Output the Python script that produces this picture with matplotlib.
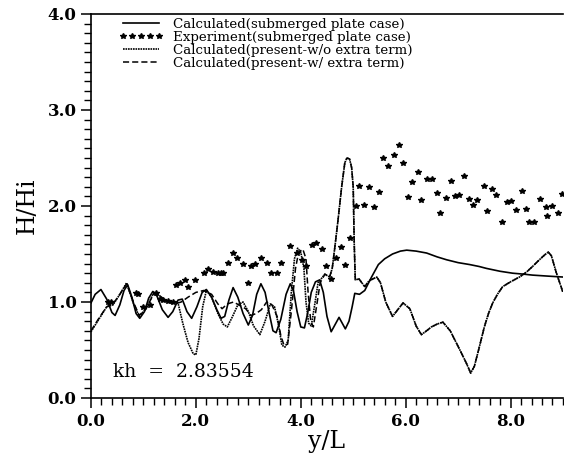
import numpy as np
import matplotlib.pyplot as plt
from matplotlib.ticker import MultipleLocator

plt.rcParams['font.family'] = ['DejaVu Serif']

# calculated, submerged plate case (solid)
sub_x = [0.00, 0.08, 0.19, 0.30, 0.40, 0.46, 0.55, 0.63, 0.70, 0.78, 0.86, 0.93,
         1.02, 1.10, 1.18, 1.26, 1.36, 1.47, 1.56, 1.66, 1.74, 1.83, 1.92, 2.02,
         2.12, 2.20, 2.30, 2.40, 2.48, 2.55, 2.63, 2.71, 2.80, 2.90, 3.00, 3.08,
         3.16, 3.24, 3.32, 3.40, 3.47, 3.53, 3.62, 3.72, 3.80, 3.86, 3.93, 4.00,
         4.07, 4.13, 4.20, 4.28, 4.36, 4.43, 4.50, 4.58, 4.66, 4.73, 4.79, 4.85,
         4.92, 4.98, 5.03, 5.12, 5.22, 5.35, 5.48, 5.60, 5.75, 5.90, 6.02, 6.20,
         6.40, 6.60, 6.78, 7.00, 7.22, 7.40, 7.54, 7.80, 8.04, 8.25, 8.42, 8.70, 9.00]
sub_y = [0.99, 1.08, 1.13, 1.03, 0.89, 0.86, 0.97, 1.12, 1.18, 1.05, 0.88, 0.83,
         0.90, 1.04, 1.11, 1.06, 0.92, 0.84, 0.90, 1.02, 1.03, 0.90, 0.83, 0.95,
         1.10, 1.13, 1.05, 0.92, 0.83, 0.85, 1.02, 1.15, 1.05, 0.88, 0.76, 0.86,
         1.08, 1.19, 1.10, 0.88, 0.70, 0.68, 0.82, 1.08, 1.19, 1.12, 0.90, 0.74,
         0.73, 0.88, 1.10, 1.21, 1.23, 1.10, 0.85, 0.69, 0.77, 0.84, 0.78, 0.72,
         0.80, 0.95, 1.09, 1.08, 1.12, 1.26, 1.39, 1.45, 1.50, 1.53, 1.54, 1.53,
         1.51, 1.47, 1.44, 1.41, 1.39, 1.37, 1.35, 1.32, 1.30, 1.29, 1.28, 1.27, 1.26]

# present method, without extra term (dotted), up to x=4.46
wo_x = [0.00, 0.15, 0.30, 0.42, 0.55, 0.68, 0.80, 0.92, 1.05, 1.20, 1.30, 1.45,
        1.58, 1.66, 1.75, 1.85, 1.95, 2.00, 2.06, 2.13, 2.20, 2.30, 2.42, 2.52,
        2.60, 2.70, 2.80, 2.90, 3.00, 3.10, 3.22, 3.32, 3.42, 3.50, 3.58, 3.64,
        3.70, 3.76, 3.82, 3.88, 3.94, 4.00, 4.06, 4.10, 4.15, 4.20, 4.26, 4.33, 4.46]
wo_y = [0.69, 0.82, 0.95, 0.97, 1.08, 1.20, 1.00, 0.85, 0.93, 1.10, 1.07, 1.00,
        1.00, 0.99, 0.78, 0.58, 0.46, 0.45, 0.62, 0.95, 1.12, 1.05, 0.88, 0.77,
        0.74, 0.85, 0.97, 1.00, 0.90, 0.75, 0.66, 0.80, 0.98, 0.95, 0.75, 0.55,
        0.53, 0.60, 1.10, 1.45, 1.56, 1.52, 1.35, 1.00, 0.78, 0.75, 0.95, 1.20, 1.29]

# present method, with extra term (dashed), up to x=4.46
w_x = [0.00, 0.15, 0.30, 0.42, 0.55, 0.68, 0.80, 0.92, 1.05, 1.20, 1.30, 1.45,
       1.60, 1.72, 1.85, 2.00, 2.15, 2.30, 2.42, 2.50, 2.60, 2.72, 2.85, 2.95,
       3.05, 3.15, 3.25, 3.35, 3.45, 3.55, 3.62, 3.68, 3.75, 3.82, 3.90, 3.96,
       4.04, 4.10, 4.14, 4.19, 4.24, 4.30, 4.37, 4.46]
w_y = [0.70, 0.83, 0.95, 0.98, 1.08, 1.19, 1.01, 0.86, 0.93, 1.09, 1.07, 1.00,
       0.98, 1.00, 1.05, 1.10, 1.12, 1.08, 0.98, 0.93, 0.98, 1.00, 0.96, 0.93,
       0.86, 0.88, 0.92, 1.00, 0.97, 0.85, 0.65, 0.55, 0.56, 0.90, 1.35, 1.52,
       1.55, 1.45, 1.10, 0.80, 0.74, 0.95, 1.20, 1.29]

# common part of both present-method curves beyond x=4.5
tail_x = [4.55, 4.60, 4.65, 4.71, 4.78, 4.84, 4.88, 4.93, 4.97, 5.00, 5.02, 5.04,
          5.11, 5.22, 5.30, 5.45, 5.52, 5.62, 5.75, 5.85, 5.95, 6.08, 6.20, 6.30,
          6.40, 6.49, 6.60, 6.71, 6.85, 6.97, 7.08, 7.16, 7.24, 7.31, 7.40, 7.50,
          7.58, 7.66, 7.75, 7.85, 8.00, 8.17, 8.30, 8.42, 8.55, 8.65, 8.72, 8.78,
          8.87, 8.95, 9.00]
tail_y = [1.26, 1.35, 1.57, 1.85, 2.20, 2.45, 2.50, 2.49, 2.40, 2.20, 1.60, 1.23,
          1.24, 1.16, 1.22, 1.26, 1.20, 1.00, 0.85, 0.92, 0.99, 0.93, 0.75, 0.66,
          0.70, 0.74, 0.77, 0.79, 0.70, 0.57, 0.45, 0.36, 0.26, 0.33, 0.52, 0.74,
          0.88, 0.99, 1.08, 1.16, 1.21, 1.26, 1.31, 1.37, 1.44, 1.49, 1.52, 1.48,
          1.31, 1.18, 1.10]

# experiment, submerged plate case
exp_x = [0.33, 0.38, 0.86, 0.90, 0.99, 1.12, 1.24, 1.31, 1.37, 1.47, 1.56, 1.62,
         1.69, 1.79, 1.85, 1.98, 2.15, 2.23, 2.33, 2.42, 2.47, 2.52, 2.61, 2.71,
         2.78, 2.89, 2.99, 3.06, 3.12, 3.25, 3.35, 3.44, 3.54, 3.63, 3.80, 3.92,
         4.02, 4.10, 4.21, 4.30, 4.40, 4.49, 4.57, 4.67, 4.76, 4.84, 4.93, 5.05,
         5.12, 5.20, 5.30, 5.39, 5.49, 5.56, 5.66, 5.77, 5.87, 5.94, 6.04, 6.13,
         6.23, 6.30, 6.40, 6.50, 6.59, 6.66, 6.76, 6.87, 6.95, 7.01, 7.12, 7.21,
         7.28, 7.37, 7.49, 7.56, 7.65, 7.73, 7.84, 7.93, 8.01, 8.10, 8.21, 8.30,
         8.36, 8.44, 8.57, 8.67, 8.70, 8.80, 8.90, 8.99]
exp_y = [1.00, 1.00, 1.09, 1.08, 0.95, 0.97, 1.09, 1.03, 1.02, 1.01, 1.00, 1.18,
         1.20, 1.23, 1.16, 1.23, 1.30, 1.34, 1.31, 1.30, 1.30, 1.30, 1.41, 1.51,
         1.46, 1.40, 1.20, 1.37, 1.40, 1.46, 1.41, 1.30, 1.30, 1.41, 1.58, 1.51,
         1.44, 1.38, 1.59, 1.61, 1.55, 1.37, 1.24, 1.46, 1.57, 1.39, 1.67, 2.00,
         2.21, 2.01, 2.20, 1.99, 2.15, 2.50, 2.42, 2.53, 2.64, 2.45, 2.09, 2.25,
         2.35, 2.06, 2.28, 2.28, 2.14, 1.93, 2.08, 2.26, 2.10, 2.11, 2.31, 2.07,
         2.01, 2.06, 2.21, 1.95, 2.18, 2.11, 1.83, 2.04, 2.05, 1.96, 2.16, 1.97,
         1.83, 1.83, 2.07, 1.99, 1.90, 2.00, 1.93, 2.13]

fig = plt.figure(figsize=(5.64, 4.65), dpi=100)
ax = fig.add_axes([0.1613, 0.1441, 0.8369, 0.8258])

ax.plot(sub_x, sub_y, color='black', lw=1.2,
        label='Calculated(submerged plate case)')
ax.plot(exp_x, exp_y, ls='none', marker='*', ms=4.2, color='black',
        label='Experiment(submerged plate case)')
ax.plot(wo_x + tail_x, wo_y + tail_y, color='black', lw=1.2, ls=(0, (1, 0.5)),
        label='Calculated(present-w/o extra term)')
ax.plot(w_x + tail_x, w_y + tail_y, color='black', lw=1.1, ls=(0, (4, 2)),
        label='Calculated(present-w/ extra term)')

ax.set_xlim(0, 9)
ax.set_ylim(0, 4)
ax.xaxis.set_major_locator(MultipleLocator(2))
ax.xaxis.set_minor_locator(MultipleLocator(0.2))
ax.yaxis.set_major_locator(MultipleLocator(1))
ax.yaxis.set_minor_locator(MultipleLocator(0.1))
ax.xaxis.set_major_formatter(plt.FormatStrFormatter('%.1f'))
ax.yaxis.set_major_formatter(plt.FormatStrFormatter('%.1f'))
ax.tick_params(which='major', direction='out', length=7, width=1.1,
               labelsize=12)
ax.tick_params(which='minor', direction='out', length=5, width=1.0)
for lab in ax.get_xticklabels() + ax.get_yticklabels():
    lab.set_fontweight('bold')
ax.spines['right'].set_visible(False)
for s in ['left', 'bottom', 'top']:
    ax.spines[s].set_linewidth(1.2)

ax.set_xlabel('y/L', fontsize=17, labelpad=0)
ax.set_ylabel('H/Hi', fontsize=17, labelpad=6)

ax.text(0.42, 0.22, 'kh  =  2.83554', fontsize=13.5)

ax.legend(loc='upper left', bbox_to_anchor=(0.04, 1.015), frameon=False,
          fontsize=9.6, handlelength=3.3, handletextpad=0.7,
          labelspacing=0.0, numpoints=5, borderpad=0.2)

fig.savefig('out.png', dpi=100)
